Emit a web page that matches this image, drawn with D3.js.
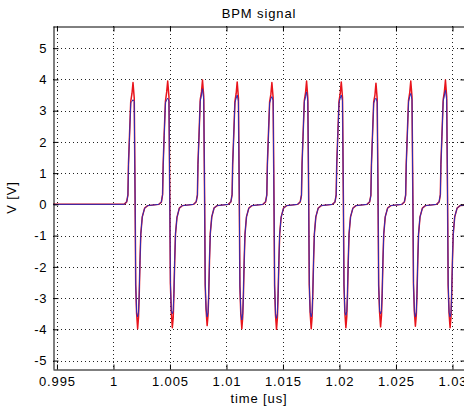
<!DOCTYPE html>
<html>
<head>
<meta charset="utf-8">
<script src="https://cdn.jsdelivr.net/npm/d3@7"></script>
<style>
html,body{margin:0;padding:0;background:#fff;overflow:hidden;}
text{font-family:"Liberation Sans",Arial,sans-serif;font-size:13px;letter-spacing:0.9px;fill:#000;}
</style>
</head>
<body>
<svg id="chart" width="464" height="409"></svg>
<script>
// ---- data (time in microseconds, voltage in volts) ----
const title = "BPM signal";
const xLabel = "time [us]";
const yLabel = "V [V]";
const xDomain = [0.99465, 1.03111];
const yDomain = [-5.27, 5.71];
const xTicks = [0.995, 1, 1.005, 1.01, 1.015, 1.02, 1.025, 1.03];
const xTickLabels = ["0.995", "1", "1.005", "1.01", "1.015", "1.02", "1.025", "1.03"];
const yTicks = [-5, -4, -3, -2, -1, 0, 1, 2, 3, 4, 5];
const yTickLabels = ["-5", "-4", "-3", "-2", "-1", "0", "1", "2", "3", "4", "5"];

const time = [
  0.99465,
  1.00094, 1.00117, 1.00128, 1.00133, 1.00142, 1.00153, 1.00164, 1.00173, 1.00184, 1.00192, 1.00197, 1.00205, 1.00214, 1.00222, 1.00228, 1.00235, 1.00242, 1.00255, 1.00276, 1.00303,
  1.00401, 1.00424, 1.00435, 1.00440, 1.00449, 1.00460, 1.00471, 1.00480, 1.00491, 1.00499, 1.00504, 1.00512, 1.00521, 1.00529, 1.00535, 1.00542, 1.00549, 1.00562, 1.00583, 1.00610,
  1.00709, 1.00732, 1.00743, 1.00748, 1.00757, 1.00768, 1.00779, 1.00788, 1.00799, 1.00807, 1.00812, 1.00820, 1.00829, 1.00837, 1.00843, 1.00850, 1.00857, 1.00870, 1.00891, 1.00918,
  1.01016, 1.01039, 1.01050, 1.01055, 1.01064, 1.01075, 1.01086, 1.01095, 1.01106, 1.01114, 1.01119, 1.01127, 1.01136, 1.01144, 1.01150, 1.01157, 1.01164, 1.01177, 1.01198, 1.01225,
  1.01323, 1.01346, 1.01357, 1.01362, 1.01371, 1.01382, 1.01393, 1.01402, 1.01413, 1.01421, 1.01426, 1.01434, 1.01443, 1.01451, 1.01457, 1.01464, 1.01471, 1.01484, 1.01505, 1.01532,
  1.01630, 1.01653, 1.01664, 1.01669, 1.01678, 1.01689, 1.01700, 1.01709, 1.01720, 1.01728, 1.01733, 1.01741, 1.01750, 1.01758, 1.01764, 1.01771, 1.01778, 1.01791, 1.01812, 1.01839,
  1.01937, 1.01960, 1.01971, 1.01976, 1.01985, 1.01996, 1.02007, 1.02016, 1.02027, 1.02035, 1.02040, 1.02048, 1.02057, 1.02065, 1.02071, 1.02078, 1.02085, 1.02098, 1.02119, 1.02146,
  1.02244, 1.02267, 1.02278, 1.02283, 1.02292, 1.02303, 1.02314, 1.02323, 1.02334, 1.02342, 1.02347, 1.02355, 1.02364, 1.02372, 1.02378, 1.02385, 1.02392, 1.02405, 1.02426, 1.02453,
  1.02552, 1.02575, 1.02586, 1.02591, 1.02600, 1.02611, 1.02622, 1.02631, 1.02642, 1.02650, 1.02655, 1.02663, 1.02672, 1.02680, 1.02686, 1.02693, 1.02700, 1.02713, 1.02734, 1.02761,
  1.02859, 1.02882, 1.02893, 1.02898, 1.02907, 1.02918, 1.02929, 1.02938, 1.02949, 1.02957, 1.02962, 1.02970, 1.02979, 1.02987, 1.02993, 1.03000, 1.03007, 1.03020, 1.03041, 1.03068,
  1.03111
];

const measured = [ // red trace
  0,
  0, 0.08, 0.30, 1.30, 2.20, 3.30, 3.55, 3.90, 3.40, 0.00, -2.60, -3.50, -3.98, -3.60, -2.90, -1.80, -0.95, -0.40, -0.12, -0.04,
  0, 0.07, 0.32, 1.28, 2.25, 3.30, 3.60, 3.95, 3.45, 0.00, -2.55, -3.45, -3.95, -3.62, -2.88, -1.82, -0.95, -0.42, -0.12, -0.04,
  0, 0.08, 0.30, 1.32, 2.20, 3.35, 3.60, 3.98, 3.45, 0.05, -2.60, -3.40, -3.88, -3.55, -2.90, -1.78, -0.93, -0.40, -0.11, -0.04,
  0, 0.08, 0.31, 1.30, 2.18, 3.30, 3.55, 3.92, 3.40, 0.00, -2.62, -3.52, -3.98, -3.60, -2.92, -1.80, -0.96, -0.40, -0.12, -0.04,
  0, 0.08, 0.30, 1.28, 2.20, 3.28, 3.52, 3.90, 3.42, 0.00, -2.60, -3.55, -4.00, -3.62, -2.90, -1.82, -0.95, -0.41, -0.12, -0.04,
  0, 0.08, 0.30, 1.30, 2.22, 3.32, 3.58, 3.95, 3.40, 0.02, -2.58, -3.50, -3.98, -3.60, -2.88, -1.80, -0.95, -0.40, -0.12, -0.04,
  0, 0.07, 0.30, 1.30, 2.20, 3.30, 3.55, 3.92, 3.42, 0.00, -2.60, -3.48, -3.95, -3.58, -2.90, -1.80, -0.94, -0.40, -0.12, -0.04,
  0, 0.08, 0.29, 1.27, 2.18, 3.28, 3.50, 3.88, 3.38, 0.00, -2.60, -3.45, -3.92, -3.55, -2.88, -1.78, -0.95, -0.40, -0.12, -0.04,
  0, 0.08, 0.30, 1.30, 2.20, 3.32, 3.58, 3.95, 3.45, 0.00, -2.55, -3.45, -3.90, -3.55, -2.90, -1.80, -0.95, -0.40, -0.12, -0.04,
  0, 0.08, 0.31, 1.32, 2.22, 3.35, 3.62, 3.98, 3.45, 0.02, -2.60, -3.50, -3.95, -3.60, -2.90, -1.80, -0.95, -0.40, -0.12, -0.04,
  -0.02
];

const simulated = [ // blue trace
  0,
  0, 0.08, 0.30, 1.25, 2.15, 3.25, 3.30, 3.35, 3.30, 0.00, -2.55, -3.45, -3.60, -3.45, -2.85, -1.80, -0.95, -0.40, -0.12, -0.04,
  0, 0.07, 0.32, 1.25, 2.20, 3.25, 3.35, 3.40, 3.30, 0.00, -2.50, -3.40, -3.50, -3.40, -2.85, -1.80, -0.95, -0.42, -0.12, -0.04,
  0, 0.08, 0.30, 1.28, 2.15, 3.30, 3.50, 3.70, 3.35, 0.05, -2.55, -3.35, -3.60, -3.45, -2.85, -1.78, -0.93, -0.40, -0.11, -0.04,
  0, 0.08, 0.31, 1.25, 2.15, 3.25, 3.40, 3.50, 3.30, 0.00, -2.58, -3.48, -3.70, -3.50, -2.88, -1.80, -0.96, -0.40, -0.12, -0.04,
  0, 0.08, 0.30, 1.24, 2.15, 3.24, 3.38, 3.45, 3.32, 0.00, -2.55, -3.50, -3.65, -3.50, -2.86, -1.80, -0.95, -0.41, -0.12, -0.04,
  0, 0.08, 0.30, 1.26, 2.18, 3.28, 3.45, 3.60, 3.30, 0.02, -2.54, -3.45, -3.60, -3.45, -2.85, -1.80, -0.95, -0.40, -0.12, -0.04,
  0, 0.07, 0.30, 1.26, 2.15, 3.25, 3.40, 3.50, 3.32, 0.00, -2.55, -3.44, -3.55, -3.42, -2.86, -1.80, -0.94, -0.40, -0.12, -0.04,
  0, 0.08, 0.29, 1.24, 2.14, 3.24, 3.35, 3.40, 3.28, 0.00, -2.55, -3.40, -3.50, -3.40, -2.85, -1.78, -0.95, -0.40, -0.12, -0.04,
  0, 0.08, 0.30, 1.26, 2.16, 3.28, 3.45, 3.55, 3.35, 0.00, -2.50, -3.42, -3.60, -3.45, -2.86, -1.80, -0.95, -0.40, -0.12, -0.04,
  0, 0.08, 0.31, 1.28, 2.18, 3.30, 3.50, 3.65, 3.35, 0.02, -2.55, -3.45, -3.60, -3.48, -2.86, -1.80, -0.95, -0.40, -0.12, -0.04,
  -0.02
];

// ---- drawing ----
const svg = d3.select("#chart");
const W = 464, H = 409;
const m = {left: 53, top: 26, right: 465, bottom: 369};

const x = d3.scaleLinear().domain(xDomain).range([m.left, m.right]);
const y = d3.scaleLinear().domain(yDomain).range([m.bottom, m.top]);

svg.append("rect").attr("width", W).attr("height", H).attr("fill", "#fff");

svg.append("defs").append("clipPath").attr("id", "clip")
  .append("rect").attr("x", m.left).attr("y", m.top)
  .attr("width", m.right - m.left).attr("height", m.bottom - m.top);

// grid
const grid = svg.append("g").attr("stroke", "#222").attr("stroke-width", 1)
  .attr("stroke-dasharray", "1,3").attr("fill", "none");
xTicks.forEach(t => {
  const px = Math.round(x(t)) + 0.5;
  grid.append("line").attr("x1", px).attr("x2", px).attr("y1", m.top).attr("y2", m.bottom);
});
yTicks.forEach(t => {
  const py = Math.round(y(t)) + 0.5;
  grid.append("line").attr("x1", m.left).attr("x2", m.right).attr("y1", py).attr("y2", py);
});

// traces
const pts = time.map((t, i) => ({t, r: measured[i], b: simulated[i]}));
const plot = svg.append("g").attr("clip-path", "url(#clip)");
plot.append("path").datum(pts)
  .attr("fill", "none").attr("stroke", "#e8141c").attr("stroke-width", 1.5)
  .attr("stroke-linejoin", "round")
  .attr("d", d3.line().x(d => x(d.t)).y(d => y(d.r)));
plot.append("path").datum(pts)
  .attr("fill", "none").attr("stroke", "#2b2bb8").attr("stroke-width", 1)
  .attr("stroke-linejoin", "round")
  .attr("d", d3.line().x(d => x(d.t)).y(d => y(d.b)));

// axes (ticks inward, box)
const tl = 5;
const axB = svg.append("g").attr("transform", `translate(0,${m.bottom + 0.5})`)
  .call(d3.axisBottom(x).tickValues(xTicks).tickFormat((d, i) => xTickLabels[i]).tickSizeInner(-tl).tickSizeOuter(0).tickPadding(7));
const axT = svg.append("g").attr("transform", `translate(0,${m.top + 0.5})`)
  .call(d3.axisTop(x).tickValues(xTicks).tickFormat("").tickSizeInner(-tl).tickSizeOuter(0));
const axL = svg.append("g").attr("transform", `translate(${m.left + 0.5},0)`)
  .call(d3.axisLeft(y).tickValues(yTicks).tickFormat((d, i) => yTickLabels[i]).tickSizeInner(-tl).tickSizeOuter(0).tickPadding(6));
const axR = svg.append("g").attr("transform", `translate(${m.right + 0.5},0)`)
  .call(d3.axisRight(y).tickValues(yTicks).tickFormat("").tickSizeInner(-tl).tickSizeOuter(0));
[axB, axT, axL, axR].forEach(a => {
  a.selectAll(".domain").attr("stroke", "#000").attr("stroke-width", 1);
  a.selectAll(".tick line").attr("stroke", "#000").attr("stroke-width", 1);
  a.selectAll("text").attr("font-size", null).attr("font-family", null).attr("fill", "#000");
});
axB.selectAll(".tick text").attr("dy", "0.71em");

// labels
svg.append("text").attr("x", (m.left + m.right) / 2).attr("y", 18)
  .attr("text-anchor", "middle").text(title);
svg.append("text").attr("x", (m.left + m.right) / 2).attr("y", 403)
  .attr("text-anchor", "middle").text(xLabel);
svg.append("text").attr("transform", `translate(16,${(m.top + m.bottom) / 2}) rotate(-90)`)
  .attr("text-anchor", "middle").text(yLabel);
</script>
</body>
</html>
